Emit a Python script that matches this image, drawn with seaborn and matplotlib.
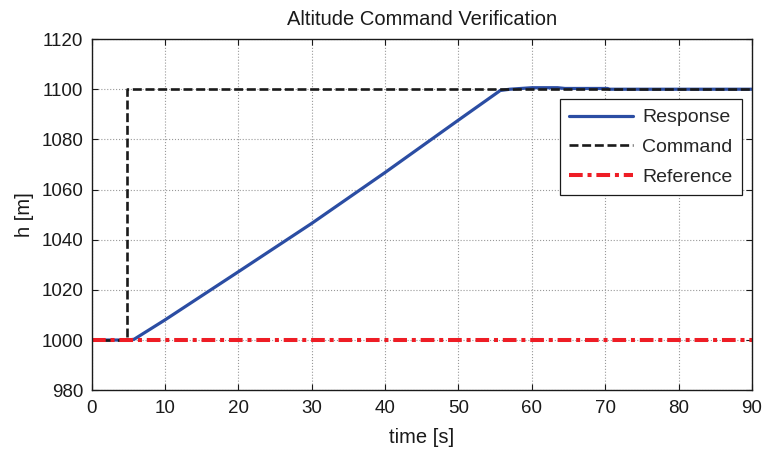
import numpy as np
import pandas as pd
import matplotlib
matplotlib.use("Agg")
import matplotlib.pyplot as plt
import seaborn as sns

# Values
t_response = [0, 5.0, 5.8, 10, 20, 30, 40, 50, 55.7, 57, 58, 60, 63.5, 64.5, 70.3, 70.6, 90]
h_response = [1000, 1000, 1000.3, 1008, 1027.2, 1046.5, 1066.8, 1087.7, 1099.5, 1100, 1100.2,
              1100.6, 1100.6, 1100.3, 1100.3, 1100, 1100]

t_command = [0, 4.8, 4.8, 90]
h_command = [1000, 1000, 1100, 1100]

t_reference = [0, 90]
h_reference = [1000, 1000]

x_ticks = [0, 10, 20, 30, 40, 50, 60, 70, 80, 90]
y_ticks = [980, 1000, 1020, 1040, 1060, 1080, 1100, 1120]

sns.set_style("ticks")
plt.rcParams['font.family'] = ['Liberation Sans', 'DejaVu Sans']

fig = plt.figure(figsize=(7.71, 4.49), dpi=100)
ax = fig.add_axes([0.1187, 0.131, 0.8567, 0.782])

resp = pd.DataFrame({'t': t_response, 'h': h_response})
cmd = pd.DataFrame({'t': t_command, 'h': h_command})
ref = pd.DataFrame({'t': t_reference, 'h': h_reference})

sns.lineplot(data=resp, x='t', y='h', ax=ax, color='#2B4DA3', linewidth=2.3,
             estimator=None, sort=False, label='Response')
sns.lineplot(data=cmd, x='t', y='h', ax=ax, color='#1a1a1a', linewidth=1.9,
             estimator=None, sort=False, label='Command')
ax.lines[-1].set_dashes((3.4, 1.4))
ax.lines[-1].set_dash_capstyle('butt')
sns.lineplot(data=ref, x='t', y='h', ax=ax, color='#EE1D25', linewidth=2.9,
             estimator=None, sort=False, label='Reference')
ax.lines[-1].set_dashes((3.4, 1.2, 1.0, 1.2))
ax.lines[-1].set_dash_capstyle('butt')

ax.set_xlim(0, 90)
ax.set_ylim(980, 1120)
ax.set_xticks(x_ticks)
ax.set_yticks(y_ticks)
ax.grid(True, color='#999999', linestyle=':', linewidth=0.8)

ax.tick_params(direction='in', length=4, width=0.8, top=True, right=True,
               labelsize=13.5, colors='#1a1a1a', pad=7)
ax.tick_params(axis='y', pad=6)
for s in ax.spines.values():
    s.set_visible(True)
    s.set_color('#1a1a1a')
    s.set_linewidth(1.0)

ax.set_title('Altitude Command Verification', fontsize=14.5, color='#1a1a1a', pad=10)
ax.set_xlabel('time [s]', fontsize=14.5, color='#1a1a1a', labelpad=8)
ax.set_ylabel('h [m]', fontsize=14.5, color='#1a1a1a', labelpad=5)

leg = ax.legend(loc='upper right', bbox_to_anchor=(0.985, 0.829), fontsize=14,
                frameon=True, fancybox=False, framealpha=1, edgecolor='#1a1a1a',
                handlelength=3.3, borderpad=0.5, labelspacing=0.62, handletextpad=0.45,
                borderaxespad=0)
leg.get_frame().set_linewidth(0.9)

fig.savefig('out.png', dpi=100)
